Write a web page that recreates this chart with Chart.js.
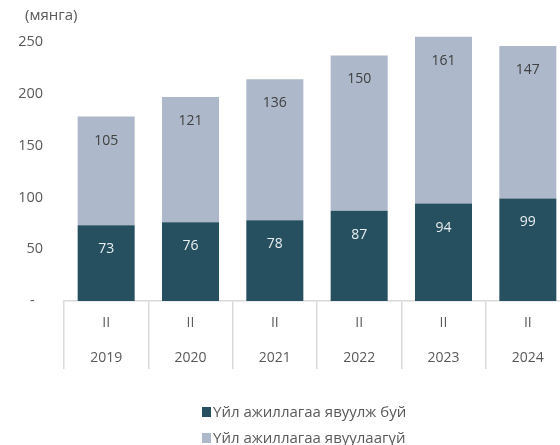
<!DOCTYPE html>
<html>
<head>
<meta charset="utf-8">
<script src="https://cdn.jsdelivr.net/npm/chart.js@4/dist/chart.umd.min.js"></script>
<style>
  html, body { margin: 0; padding: 0; overflow: hidden; background: #ffffff; }
  #wrap { position: relative; width: 572px; height: 445px; }
</style>
</head>
<body>
<div id="wrap"><canvas id="c"></canvas></div>
<script>
const quarters = ['II', 'II', 'II', 'II', 'II', 'II'];
const years = ['2019', '2020', '2021', '2022', '2023', '2024'];
const operating = [73, 76, 78, 87, 94, 99];
const nonOperating = [105, 121, 136, 150, 161, 147];
const seriesNames = ['Үйл ажиллагаа явуулж буй', 'Үйл ажиллагаа явуулаагүй'];
const unitLabel = '(мянга)';
const yTickValues = [0, 50, 100, 150, 200, 250];

const FONT = "'Open Sans', 'Noto Sans', sans-serif";
const DARK = '#26505f';
const LIGHT = '#adb8ca';
const TEXT = '#595959';

const labels = years.map((y, i) => [quarters[i], y]);

const overlay = {
  id: 'overlay',
  afterDatasetsDraw(chart) {
    const ctx = chart.ctx;
    ctx.save();
    ctx.font = '14px ' + FONT;
    ctx.textAlign = 'center';
    ctx.textBaseline = 'middle';
    chart.data.datasets.forEach((ds, di) => {
      const meta = chart.getDatasetMeta(di);
      meta.data.forEach((el, i) => {
        ctx.fillStyle = di === 0 ? '#e9eef0' : '#404040';
        ctx.fillText(String(ds.data[i]), el.x, el.y + 24);
      });
    });
    ctx.restore();
  },
  afterDraw(chart) {
    const ctx = chart.ctx;
    ctx.save();
    ctx.fillStyle = TEXT;
    ctx.textBaseline = 'middle';
    ctx.textAlign = 'left';
    ctx.font = '15px ' + FONT;
    ctx.fillText(unitLabel, 25, 16);
    // legend
    ctx.font = '15px ' + FONT;
    chart.data.datasets.forEach((ds, di) => {
      const cy = 412 + di * 26;
      ctx.fillStyle = ds.backgroundColor;
      ctx.fillRect(202, cy - 5, 9, 10);
      ctx.fillStyle = TEXT;
      ctx.fillText(ds.label, 213, cy + 1);
    });
    ctx.restore();
  }
};

new Chart(document.getElementById('c'), {
  type: 'bar',
  data: {
    labels: labels,
    datasets: [
      { label: seriesNames[0], data: operating, backgroundColor: DARK },
      { label: seriesNames[1], data: nonOperating, backgroundColor: LIGHT }
    ]
  },
  options: {
    responsive: true,
    maintainAspectRatio: false,
    animation: false,
    layout: { padding: { top: 31.6, right: 2, bottom: 75, left: 0 } },
    datasets: { bar: { categoryPercentage: 1, barPercentage: 0.676 } },
    plugins: { legend: { display: false }, tooltip: { enabled: false } },
    scales: {
      x: {
        stacked: true,
        grid: {
          display: true, drawOnChartArea: false, drawTicks: true,
          tickLength: 68, color: '#d9d9d9', lineWidth: 1.5, offset: true
        },
        border: { display: true, color: '#d9d9d9', width: 1.5 },
        ticks: {
          color: TEXT, font: { family: FONT, size: 14, lineHeight: '35px' },
          padding: -63.5, maxRotation: 0, autoSkip: false
        },
        afterFit(axis) { axis.height = 69; }
      },
      y: {
        stacked: true,
        min: 0, max: 260,
        grid: { display: false, drawTicks: false },
        border: { display: false },
        afterBuildTicks(axis) { axis.ticks = yTickValues.map(v => ({ value: v })); },
        ticks: {
          color: TEXT, font: { family: FONT, size: 14.5 }, padding: 21,
          crossAlign: 'near',
          callback: (v) => v === 0 ? '-\u2007' : String(v)
        },
        afterFit(axis) { axis.width = 64; }
      }
    }
  },
  plugins: [overlay]
});
</script>
</body>
</html>
